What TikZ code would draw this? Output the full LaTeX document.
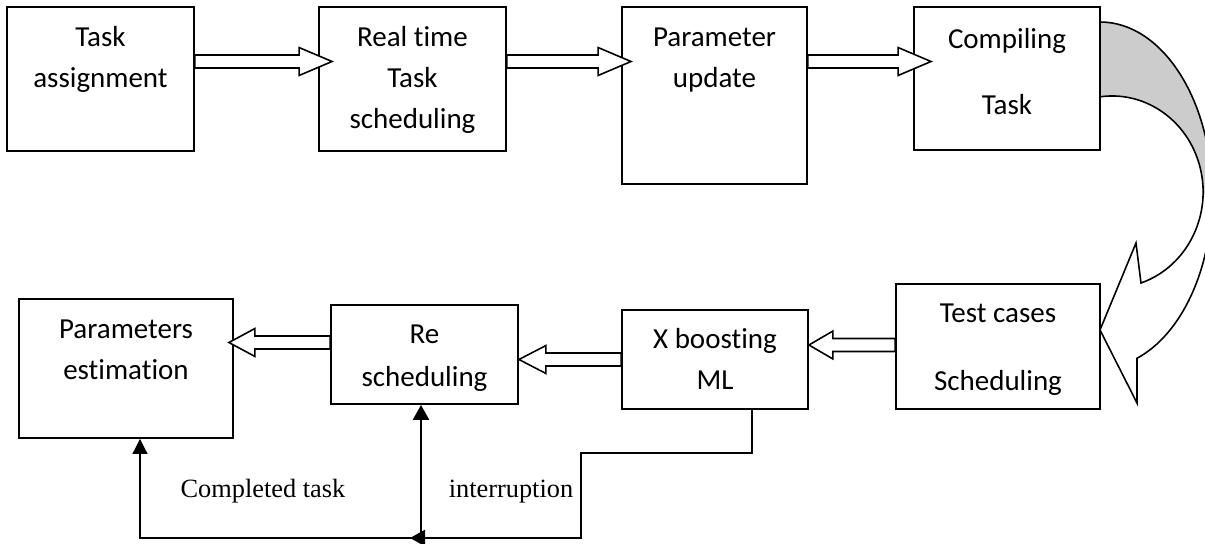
\documentclass[tikz,border=0pt]{standalone}
\usepackage{fontspec}
\setmainfont{Carlito}[Ligatures=NoCommon]
\newfontfamily\labelfont{Liberation Serif}
\usetikzlibrary{arrows.meta,positioning,calc}

\tikzset{
  box/.style={draw,line width=1.1pt,inner sep=0pt},
  txt/.style={font=\fontsize{16.5}{23.25}\selectfont,align=center,anchor=base,inner sep=0pt},
  lbl/.style={font=\labelfont\fontsize{15}{18}\selectfont,anchor=base,inner sep=0pt},
  hollow/.style={draw,line width=0.9pt,fill=white,
    to path={let \p1=(\tikztostart), \p2=(\tikztotarget), \n1={ifthenelse(\x2>\x1,1,-1)} in
      (\x1,\y1+0.13cm) -- (\x2-\n1*#1,\y1+0.13cm) -- (\x2-\n1*#1,\y1+0.28cm) -- (\x2,\y1)
      -- (\x2-\n1*#1,\y1-0.28cm) -- (\x2-\n1*#1,\y1-0.13cm) -- (\x1,\y1-0.13cm) -- cycle}},
  hollow/.default=0.66cm,
  conn/.style={line width=1.4pt,-{Triangle[length=0.3cm,width=0.32cm]}},
  thinconn/.style={line width=0.6pt,-{Triangle[length=0.3cm,width=0.3cm]}}
}

\begin{document}
\begin{tikzpicture}[x=0.02cm,y=-0.02cm]
\useasboundingbox (0,0) rectangle (1205,544);

% top row
\node[box,minimum width=3.74cm,minimum height=2.88cm] (assign) at (100.5,79) {};
\node[box,minimum width=3.74cm,minimum height=2.88cm] (realtime) at (412.5,79) {};
\node[box,minimum width=3.70cm,minimum height=3.54cm] (paramupd) at (714.5,95.5) {};
\node[box,minimum width=3.72cm,minimum height=2.86cm] (compile) at (1007,78.5) {};

% bottom row
\node[box,minimum width=4.08cm,minimum height=2.50cm] (testcase) at (998,346.5) {};
\node[box,minimum width=3.72cm,minimum height=1.98cm] (xboost) at (715,359.5) {};
\node[box,minimum width=3.74cm,minimum height=1.98cm] (resched) at (424.5,354.5) {};
\node[box,minimum width=4.28cm,minimum height=2.78cm] (paramest) at (126,368.5) {};

% box texts (base = last line)
\node[txt] (assign-t) at ([yshift=-1.62cm]assign.north) {Task\\assignment};
\node[txt] (realtime-t) at ([yshift=-2.44cm]realtime.north) {Real time\\Task\\scheduling};
\node[txt] (paramupd-t) at ([yshift=-1.62cm]paramupd.north) {Parameter\\update};
\node[txt] (compile-t) at ([yshift=-2.16cm]compile.north) {Compiling\\[0.5cm]Task};
\node[txt] (testcase-t) at ([yshift=-2.14cm]testcase.north) {Test cases\\[0.54cm]Scheduling};
\node[txt] (xboost-t) at ([yshift=-1.6cm]xboost.north) {X boosting\\ML};
\node[txt] (resched-t) at ([yshift=-1.64cm]resched.north) {Re\\[0.04cm]scheduling};
\node[txt] (paramest-t) at ([yshift=-1.62cm]paramest.north) {Parameters\\estimation};

% block arrows
\draw[hollow] ([yshift=0.35cm]assign.east) to ([xshift=0.28cm]realtime.west);
\draw[hollow] ([yshift=0.35cm]realtime.east) to ([xshift=0.2cm]paramupd.west);
\draw[hollow] ([yshift=0.68cm]paramupd.east) to ([xshift=0.36cm]compile.west);
\draw[hollow=0.48cm] ([yshift=0.03cm]testcase.west) to (xboost.east);
\draw[hollow=0.54cm] (xboost.west) to (resched.east);
\draw[hollow=0.52cm] ([yshift=0.24cm]resched.west) to ([xshift=-0.1cm]paramest.east);

% curved arrow
\def\bendpath{(1100,22) arc[start angle=-90,end angle=70.7,x radius=112,y radius=173]
  -- (1137,403) -- (1100,330) -- (1136,243) -- (1141,283)
  arc[start angle=71.5,end angle=-97.6,x radius=91,y radius=96] -- cycle}
\begin{scope}
  \clip (1090,0) rectangle (1205,195);
  \fill[gray!40] \bendpath;
\end{scope}
\draw[line width=0.9pt] \bendpath;

% feedback lines
\coordinate (junc) at (421,538);
\draw[conn] ([xshift=0.74cm]xboost.south) -- ++(0,43) -| (581,538) -- ([xshift=-0.22cm]junc);
\draw[conn] (junc) -- (junc |- resched.south);
\draw[thinconn] (junc) -| ([xshift=0.28cm]paramest.south);

\node[lbl] (done-l) at (263,497) {Completed task};
\node[lbl] (intr-l) at (511,497) {interruption};
\end{tikzpicture}
\end{document}
